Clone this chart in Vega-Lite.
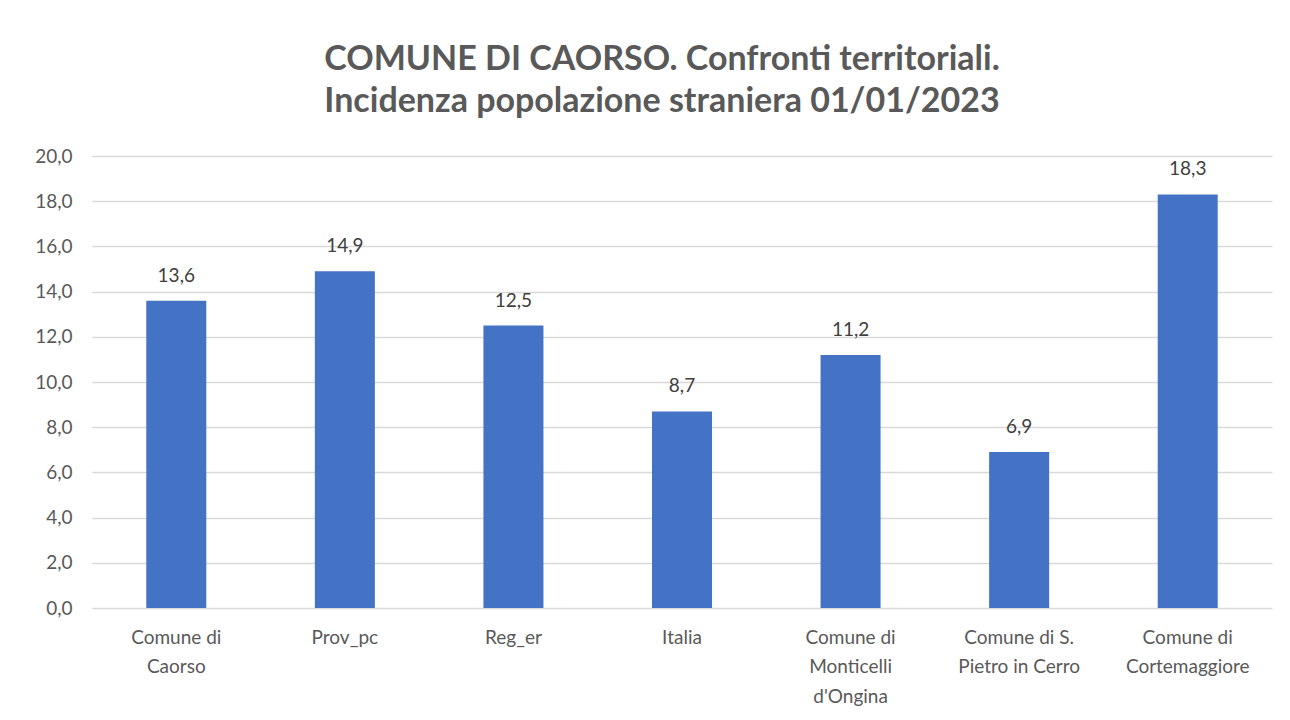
{
  "$schema": "https://vega.github.io/schema/vega-lite/v6.json",
  "width": 1180,
  "height": 452,
  "padding": {"left": 34, "top": 43, "right": 14, "bottom": 10},
  "background": "white",
  "config": {
    "locale": {"number": {"decimal": ",", "thousands": ".", "grouping": [3], "currency": ["€", ""]}},
    "view": {"stroke": null},
    "font": "Lato"
  },
  "title": {
    "text": ["COMUNE DI CAORSO. Confronti territoriali.", "Incidenza popolazione straniera 01/01/2023"],
    "font": "Lato",
    "fontSize": 34,
    "fontWeight": "bold",
    "color": "#595959",
    "lineHeight": 42,
    "offset": 28,
    "dx": -20,
    "anchor": "middle"
  },
  "data": {
    "values": [
      {"area": "Comune di|Caorso", "valore": 13.6},
      {"area": "Prov_pc", "valore": 14.9},
      {"area": "Reg_er", "valore": 12.5},
      {"area": "Italia", "valore": 8.7},
      {"area": "Comune di|Monticelli|d'Ongina", "valore": 11.2},
      {"area": "Comune di S.|Pietro in Cerro", "valore": 6.9},
      {"area": "Comune di|Cortemaggiore", "valore": 18.3}
    ]
  },
  "encoding": {
    "x": {
      "field": "area",
      "type": "nominal",
      "sort": null,
      "title": null,
      "scale": {"paddingInner": 0.644, "paddingOuter": 0.322},
      "axis": {
        "labelAngle": 0,
        "labelExpr": "split(datum.value, '|')",
        "labelFont": "Lato",
        "labelFontSize": 19,
        "labelColor": "#595959",
        "labelLineHeight": 29.5,
        "labelPadding": 20,
        "ticks": false,
        "domain": false,
        "labelBaseline": "top"
      }
    },
    "y": {
      "field": "valore",
      "type": "quantitative",
      "title": null,
      "scale": {"domain": [0, 20], "nice": false},
      "axis": {
        "values": [0, 2, 4, 6, 8, 10, 12, 14, 16, 18, 20],
        "format": ".1f",
        "labelFont": "Lato",
        "labelFontSize": 19,
        "labelColor": "#595959",
        "labelPadding": 20,
        "ticks": false,
        "domain": false,
        "gridColor": "#d9d9d9",
        "gridWidth": 1.3
      }
    }
  },
  "layer": [
    {"mark": {"type": "bar", "color": "#4472C4"}},
    {
      "mark": {"type": "text", "dy": -25, "font": "Lato", "fontSize": 19, "color": "#404040"},
      "encoding": {"text": {"field": "valore", "type": "quantitative", "format": ".1f"}}
    }
  ]
}
